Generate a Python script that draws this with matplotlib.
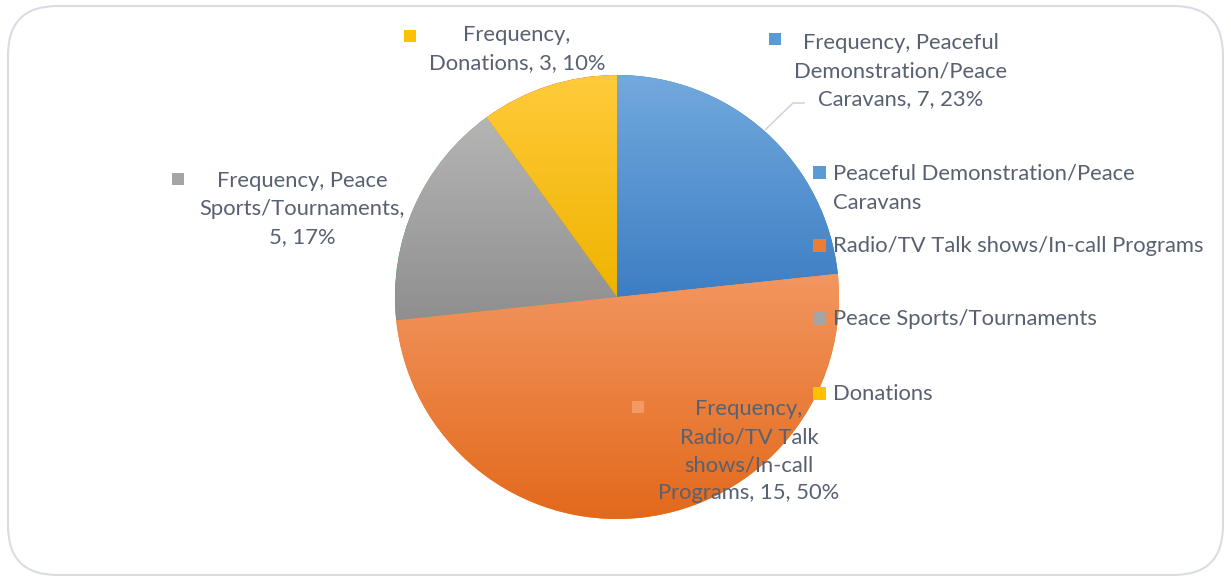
import textwrap
import numpy as np
import matplotlib
matplotlib.use("Agg")
import matplotlib.pyplot as plt
from matplotlib.patches import FancyBboxPatch, Rectangle
from matplotlib.colors import LinearSegmentedColormap

# ---- data -------------------------------------------------------------
categories = [
    "Peaceful Demonstration/Peace Caravans",
    "Radio/TV Talk shows/In-call Programs",
    "Peace Sports/Tournaments",
    "Donations",
]
frequency = [7, 15, 5, 3]
series_name = "Frequency"

# ---- style ------------------------------------------------------------
grad_top = ["#72a9de", "#f29660", "#b5b5b5", "#ffcb3a"]
grad_bot = ["#3d7ec3", "#e2681a", "#8f8f8f", "#efb300"]
solid = ["#5b9bd5", "#ed7d31", "#a5a5a5", "#ffc000"]
label_marker = ["#5b9bd5", "#f39a64", "#a5a5a5", "#ffc000"]
text_color = "#586171"
FONT = "Lato"
FS = 15.8
LS = 1.5

W, H = 1231, 583
fig = plt.figure(figsize=(W / 100, H / 100), dpi=100)
ax = fig.add_axes([0, 0, 1, 1])


def py(y):
    """pixel row (from top) -> axes data y"""
    return H - y


cx, cy, R = 617, py(297), 222
wedges, _ = ax.pie(frequency, startangle=90, counterclock=False,
                   center=(cx, cy), radius=R,
                   wedgeprops=dict(linewidth=0))

# vertical gradient fill for each slice
for w, c0, c1 in zip(wedges, grad_top, grad_bot):
    v = w.get_path().vertices
    y0, y1 = v[:, 1].min(), v[:, 1].max()
    cmap = LinearSegmentedColormap.from_list("g", [c1, c0])
    grad = np.linspace(0, 1, 256).reshape(-1, 1)
    im = ax.imshow(grad, cmap=cmap, origin="lower", aspect="auto",
                   extent=(cx - R - 2, cx + R + 2, y0, y1),
                   interpolation="bilinear", zorder=w.get_zorder() + 0.1)
    im.set_clip_path(w)

ax.set_xlim(0, W)
ax.set_ylim(0, H)
ax.set_aspect("auto")
ax.axis("off")

# ---- data labels ------------------------------------------------------
total = sum(frequency)
wrap_widths = [19, 17, 19, 17]
label_pos = [(901, 71), (749, 451), (302, 209), (517, 49)]
marker_pos = [(775, 39), (638, 407), (178, 179), (410, 36)]

for i, (cat, val) in enumerate(zip(categories, frequency)):
    pct = round(100 * val / total)
    txt = textwrap.fill(f"{series_name}, {cat}, {val}, {pct}%",
                        width=wrap_widths[i], break_on_hyphens=False)
    lx, ly = label_pos[i]
    ax.text(lx, py(ly), txt, ha="center", va="center", color=text_color,
            fontsize=FS, family=FONT, linespacing=LS, zorder=5)
    mx, my = marker_pos[i]
    ax.add_patch(Rectangle((mx - 6, py(my) - 6), 12, 12,
                           facecolor=label_marker[i], edgecolor="none",
                           zorder=5))

# leader line for the first slice label
ax.plot([805, 793, 765], [py(103), py(103), py(130)], color="#c9ced6",
        lw=1, zorder=4, solid_capstyle="butt")

# ---- legend -----------------------------------------------------------
legend_rows = [172, 245, 318, 393]
for i, cat in enumerate(categories):
    y = legend_rows[i]
    ax.add_patch(Rectangle((813, py(y) - 6.5), 13, 13,
                           facecolor=solid[i], edgecolor="none", zorder=5))
    ax.text(833, py(y) + 9, textwrap.fill(cat, width=36), ha="left",
            va="top", color=text_color, fontsize=FS, family=FONT,
            linespacing=1.6, zorder=5)

# rounded chart-area border
fig.patches.append(FancyBboxPatch((8 / W, 8 / H), (W - 16) / W, (H - 14) / H,
                                  boxstyle="round,pad=0,rounding_size=0.04",
                                  transform=fig.transFigure,
                                  facecolor="none", edgecolor="#d9dde3",
                                  lw=1.5, mutation_aspect=W / H))

fig.savefig("out.png", dpi=100)
